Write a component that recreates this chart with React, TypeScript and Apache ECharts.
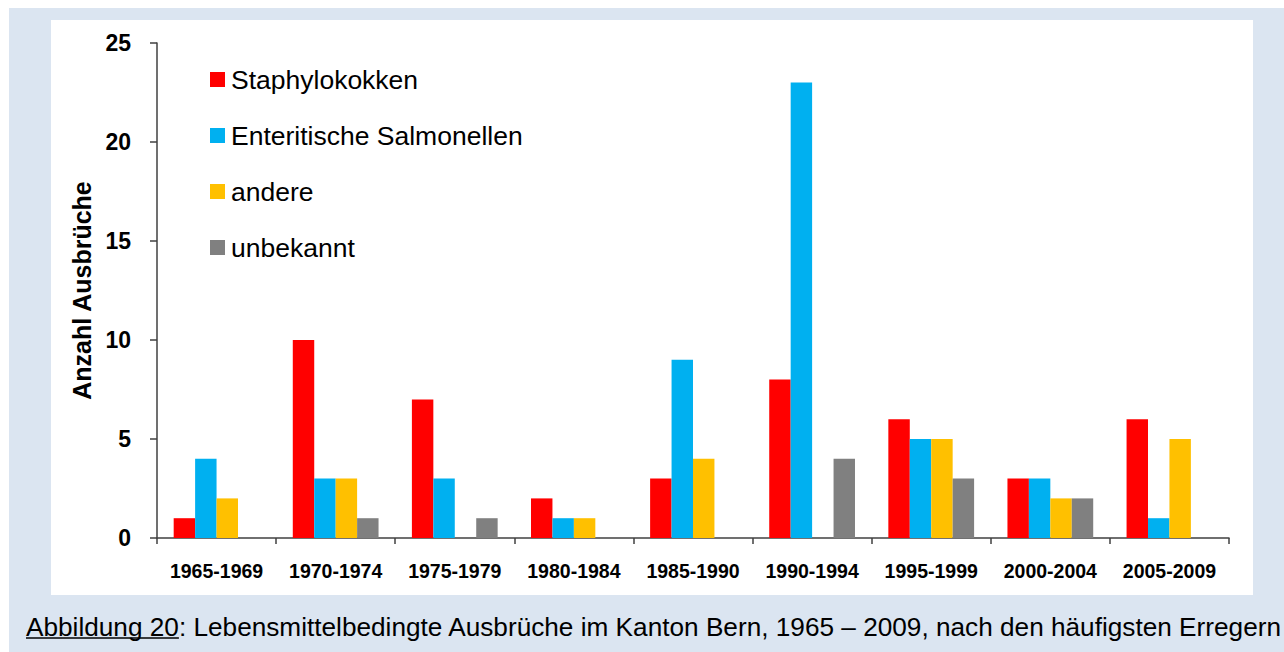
import React, { useEffect, useRef } from "react";
import * as echarts from "echarts";

const categories = ["1965-1969", "1970-1974", "1975-1979", "1980-1984", "1985-1990", "1990-1994", "1995-1999", "2000-2004", "2005-2009"];
const staphylokokken = [1, 10, 7, 2, 3, 8, 6, 3, 6];
const salmonellen = [4, 3, 3, 1, 9, 23, 5, 3, 1];
const andere = [2, 3, 0, 1, 4, 0, 5, 2, 5];
const unbekannt = [0, 1, 1, 0, 0, 4, 3, 2, 0];
const seriesNames = ["Staphylokokken", "Enteritische Salmonellen", "andere", "unbekannt"];
const seriesColors = ["#FF0000", "#00B0F0", "#FFC000", "#808080"];
const yTicks = [0, 5, 10, 15, 20, 25];
const captionLabel = "Abbildung 20";
const captionText = ": Lebensmittelbedingte Ausbrüche im Kanton Bern, 1965 – 2009, nach den häufigsten Erregern";

const FONT = "'Liberation Sans', Arial, sans-serif";
const CAPTION_SIZE = 26.2;

function measure(text: string, font: string): number {
  const c = document.createElement("canvas");
  const ctx = c.getContext("2d");
  if (!ctx) return 0;
  ctx.font = font;
  return ctx.measureText(text).width;
}

export default function App() {
  const ref = useRef<HTMLDivElement>(null);
  useEffect(() => {
    if (!ref.current) return;
    const chart = echarts.init(ref.current, null, { renderer: "svg" });
    const data = [staphylokokken, salmonellen, andere, unbekannt];
    const underlineW = measure(captionLabel, `${CAPTION_SIZE}px 'Liberation Sans', Arial, sans-serif`) || 151;
    chart.setOption({
      animation: false,
      backgroundColor: "#ffffff",
      textStyle: { fontFamily: FONT },
      grid: { left: 157, right: 55, top: 43, bottom: 114, containLabel: false },
      legend: {
        orient: "vertical",
        left: 205,
        top: 61,
        itemWidth: 15,
        itemHeight: 15,
        itemGap: 29,
        icon: "rect",
        textStyle: { fontSize: 26.5, color: "#000", fontFamily: FONT, padding: [0, 0, 0, 1] },
        data: seriesNames,
      },
      xAxis: {
        type: "category",
        data: categories,
        axisLine: { lineStyle: { color: "#404040", width: 1.5 } },
        axisTick: { show: true, length: 6, inside: false, alignWithLabel: false, lineStyle: { color: "#404040", width: 1.5 } },
        axisLabel: { color: "#000", fontSize: 19.5, fontWeight: "bold", margin: 23, fontFamily: FONT, interval: 0 },
        splitLine: { show: false },
      },
      yAxis: {
        type: "value",
        min: yTicks[0],
        max: yTicks[yTicks.length - 1],
        interval: 5,
        name: "Anzahl Ausbrüche",
        nameLocation: "middle",
        nameGap: 63,
        nameRotate: 90,
        nameTextStyle: { fontSize: 25, fontWeight: "bold", color: "#000", fontFamily: FONT },
        axisLine: { show: true, lineStyle: { color: "#404040", width: 1.5 } },
        axisTick: { show: true, length: 7, inside: false, lineStyle: { color: "#404040", width: 1.5 } },
        axisLabel: { color: "#000", fontSize: 23, fontWeight: "bold", margin: 26, fontFamily: FONT },
        splitLine: { show: false },
      },
      graphic: [
        { type: "rect", z: -100, silent: true, shape: { x: 9, y: 8, width: 1275, height: 644 }, style: { fill: "#DBE5F1" } },
        { type: "rect", z: -99, silent: true, shape: { x: 51, y: 20, width: 1202, height: 575 }, style: { fill: "#FFFFFF" } },
        {
          type: "text",
          left: 26,
          top: 614,
          style: {
            text: captionLabel + captionText,
            fontSize: CAPTION_SIZE,
            fontFamily: FONT,
            fill: "#000",
          },
        },
        { type: "line", shape: { x1: 26, y1: 638, x2: 26 + underlineW, y2: 638 }, style: { stroke: "#000", lineWidth: 1.5 } },
      ],
      series: seriesNames.map((name, i) => ({
        name,
        type: "bar",
        data: data[i],
        barGap: "0%",
        barCategoryGap: "28%",
        itemStyle: { color: seriesColors[i] },
      })),
    });
    return () => chart.dispose();
  }, []);
  return <div ref={ref} style={{ position: "absolute", left: 0, top: 0, width: 1284, height: 652 }} />;
}
